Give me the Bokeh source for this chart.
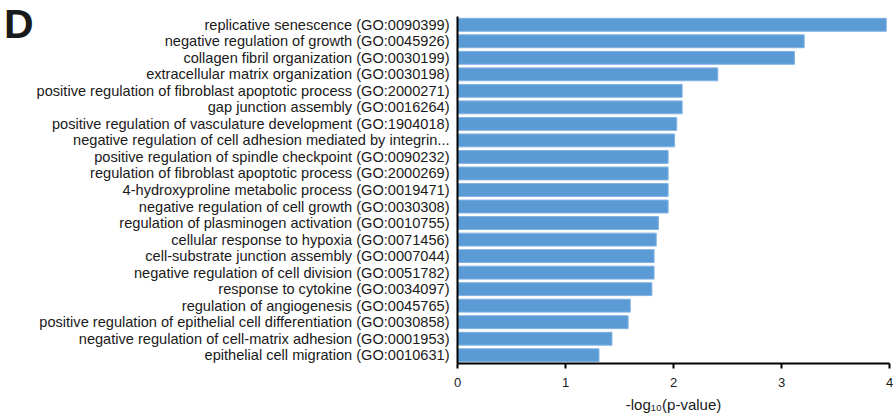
from bokeh.plotting import figure
from bokeh.models import (FactorRange, Range1d, FixedTicker, CategoricalAxis,
                          ColumnDataSource)
from bokeh.embed import file_html
from bokeh.resources import INLINE

terms = [
    "replicative senescence (GO:0090399)",
    "negative regulation of growth (GO:0045926)",
    "collagen fibril organization (GO:0030199)",
    "extracellular matrix organization (GO:0030198)",
    "positive regulation of fibroblast apoptotic process (GO:2000271)",
    "gap junction assembly (GO:0016264)",
    "positive regulation of vasculature development (GO:1904018)",
    "negative regulation of cell adhesion mediated by integrin...",
    "positive regulation of spindle checkpoint (GO:0090232)",
    "regulation of fibroblast apoptotic process (GO:2000269)",
    "4-hydroxyproline metabolic process (GO:0019471)",
    "negative regulation of cell growth (GO:0030308)",
    "regulation of plasminogen activation (GO:0010755)",
    "cellular response to hypoxia (GO:0071456)",
    "cell-substrate junction assembly (GO:0007044)",
    "negative regulation of cell division (GO:0051782)",
    "response to cytokine (GO:0034097)",
    "regulation of angiogenesis (GO:0045765)",
    "positive regulation of epithelial cell differentiation (GO:0030858)",
    "negative regulation of cell-matrix adhesion (GO:0001953)",
    "epithelial cell migration (GO:0010631)",
]
neg_log10_p = [3.97, 3.21, 3.12, 2.41, 2.08, 2.08, 2.03, 2.01, 1.95, 1.95, 1.95,
               1.95, 1.86, 1.84, 1.82, 1.82, 1.80, 1.60, 1.58, 1.43, 1.31]
x_ticks = [0, 1, 2, 3, 4]
x_title = "-log\u2081\u2080(p-value)"
panel_letter = "D"

FONT = "Liberation Sans"
BLUE = "#5b9bd5"

src = ColumnDataSource(data=dict(term=terms, val=neg_log10_p))

p = figure(width=893, height=416, output_backend="svg", toolbar_location=None,
           y_range=FactorRange(factors=list(reversed(terms)), range_padding=0),
           x_range=Range1d(0, 4),
           min_border_left=455, min_border_right=4, min_border_top=16, min_border_bottom=53)
p.outline_line_color = None
p.background_fill_color = "white"
p.border_fill_color = "white"
p.xgrid.visible = False
p.ygrid.visible = False

p.hbar(y="term", right="val", left=0, height=0.78, source=src,
       fill_color=BLUE, line_color="#80b2e2", line_width=1)

xa = p.xaxis[0]
xa.ticker = FixedTicker(ticks=x_ticks)
xa.minor_tick_line_color = None
xa.major_tick_in = 0
xa.major_tick_out = 5
xa.major_tick_line_width = 2
xa.axis_line_width = 2
xa.axis_line_color = "black"
xa.major_tick_line_color = "black"
xa.major_label_text_font = FONT
xa.major_label_text_font_size = "13px"
xa.major_label_text_color = "#1a1a1a"
xa.major_label_standoff = 9
xa.axis_label = x_title
xa.axis_label_text_font = FONT
xa.axis_label_text_font_size = "15px"
xa.axis_label_text_font_style = "normal"
xa.axis_label_text_color = "#1a1a1a"
xa.axis_label_standoff = 6

ya = p.yaxis[0]
ya.major_tick_in = 0
ya.major_tick_out = 0
ya.minor_tick_line_color = None
ya.axis_line_width = 2
ya.axis_line_color = "black"
ya.major_label_text_font = FONT
ya.major_label_text_font_size = "14.6px"
ya.major_label_text_color = "#1a1a1a"
ya.major_label_standoff = 8

# panel letter: the top slot of an invisible outer categorical axis;
# the other slots are unique zero-width strings, so they draw nothing
blank_slots = ["\u200b" * (i + 1) for i in range(26)]
p.extra_y_ranges = {"letter": FactorRange(factors=blank_slots + [panel_letter],
                                          range_padding=0)}
la = CategoricalAxis(y_range_name="letter")
la.axis_line_color = None
la.major_tick_line_color = None
la.minor_tick_line_color = None
la.major_tick_in = 0
la.major_tick_out = 0
la.major_label_standoff = 0
la.major_label_text_font = FONT
la.major_label_text_font_size = "41px"
la.major_label_text_font_style = "bold"
la.major_label_text_color = "#1a1a1a"
p.add_layout(la, "left")

open("out.html", "w").write(file_html(p, INLINE))
